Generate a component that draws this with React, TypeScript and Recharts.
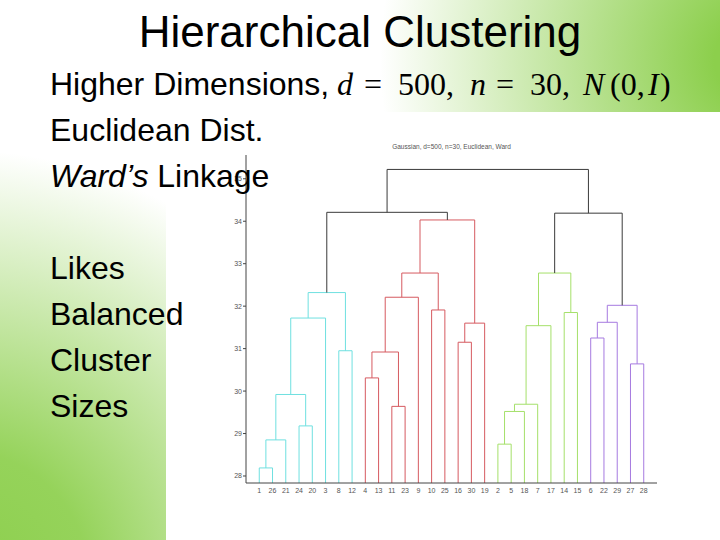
import React from 'react';
import { ComposedChart, Line, XAxis, YAxis } from 'recharts';

// ---- data ----
const leafLabels = ['1', '26', '21', '24', '20', '3', '8', '12', '4', '13', '11', '23', '9', '10', '25', '16', '30', '19', '2', '5', '18', '7', '17', '14', '15', '6', '22', '29', '27', '28'];
// linkage (MATLAB style): node n+k+1 joins linkLeft[k] and linkRight[k] at linkHeight[k]
const linkLeft = [1, 31, 24, 32, 34, 8, 35, 4, 11, 38, 40, 10, 41, 16, 44, 43, 37, 2, 48, 49, 50, 14, 51, 6, 54, 27, 55, 53, 47];
const linkRight = [26, 21, 20, 33, 3, 12, 36, 13, 23, 39, 9, 25, 42, 30, 19, 45, 46, 5, 18, 7, 17, 15, 52, 22, 29, 28, 56, 57, 58];
const linkHeight = [28.19, 28.85, 29.18, 29.92, 31.72, 30.95, 32.32, 30.31, 29.64, 30.92, 32.21, 31.91, 32.78, 31.15, 31.6, 34.03, 34.21, 28.75, 29.52, 29.69, 31.54, 31.85, 32.78, 31.25, 31.62, 30.64, 32.02, 34.19, 35.22];
const yTicks = [28, 29, 30, 31, 32, 33, 34, 35];
const colorThreshold = 34.1;
const chartTitle = 'Gaussian, d=500, n=30, Euclidean, Ward';
const slideTitle = 'Hierarchical Clustering';
const bulletLines = ['Likes', 'Balanced', 'Cluster', 'Sizes'];

// ---- styles ----
const Y_MIN = 27.835;
const Y_MAX = 35.56;
const clusterColors = ['#6fe0e0', '#d65a60', '#a5e06a', '#a67ae0'];
const aboveColor = '#3a3a3a';
const GREEN = '#8ccf4c';

function buildSegments() {
  const n = leafLabels.length;
  const pos: Record<number, number> = {};
  const height: Record<number, number> = {};
  const parent: Record<number, number> = {};
  leafLabels.forEach((lab, i) => {
    pos[Number(lab)] = i + 1;
    height[Number(lab)] = Y_MIN;
  });
  linkLeft.forEach((a, k) => {
    const id = n + 1 + k;
    const b = linkRight[k];
    pos[id] = (pos[a] + pos[b]) / 2;
    height[id] = linkHeight[k];
    parent[a] = id;
    parent[b] = id;
  });
  const rootOf = (id: number) => {
    let r = id;
    while (parent[r] !== undefined && height[parent[r]] < colorThreshold) r = parent[r];
    return r;
  };
  const roots: number[] = [];
  linkLeft.forEach((_, k) => {
    const id = n + 1 + k;
    if (linkHeight[k] < colorThreshold) {
      const r = rootOf(id);
      if (!roots.includes(r)) roots.push(r);
    }
  });
  roots.sort((p, q) => pos[p] - pos[q]);
  return linkLeft.map((a, k) => {
    const id = n + 1 + k;
    const b = linkRight[k];
    const h = linkHeight[k];
    const color = h < colorThreshold ? clusterColors[roots.indexOf(rootOf(id)) % clusterColors.length] : aboveColor;
    return {
      key: id,
      color,
      points: [
        { x: pos[a], y: height[a] },
        { x: pos[a], y: h },
        { x: pos[b], y: h },
        { x: pos[b], y: height[b] },
      ],
    };
  });
}

const segments = buildSegments();
const xTicks = leafLabels.map((_, i) => i + 1);

export default function App() {
  const sans = '"Liberation Sans", Arial, sans-serif';
  const serif = '"Liberation Serif", "Times New Roman", serif';
  return (
    <div style={{ position: 'absolute', left: 0, top: 0, width: 720, height: 540, overflow: 'hidden', background: '#fff' }}>
      <svg width={720} height={540} style={{ position: 'absolute', left: 0, top: 0 }}>
        <defs>
          <radialGradient id="gTR" cx={760} cy={60} r={380} gradientUnits="userSpaceOnUse">
            <stop offset="0" stopColor={GREEN} stopOpacity={1} />
            <stop offset="0.12" stopColor={GREEN} stopOpacity={1} />
            <stop offset="1" stopColor={GREEN} stopOpacity={0} />
          </radialGradient>
          <radialGradient id="gBL" cx={-40} cy={580} r={430} gradientUnits="userSpaceOnUse">
            <stop offset="0" stopColor={GREEN} stopOpacity={1} />
            <stop offset="0.3" stopColor={GREEN} stopOpacity={0.92} />
            <stop offset="1" stopColor={GREEN} stopOpacity={0} />
          </radialGradient>
        </defs>
        <rect x={0} y={0} width={720} height={540} fill="#ffffff" />
        <rect x={0} y={0} width={720} height={540} fill="url(#gTR)" />
        <rect x={0} y={0} width={720} height={540} fill="url(#gBL)" />
        <rect x={166} y={112} width={554} height={428} fill="#ffffff" />
      </svg>

      <div style={{ position: 'absolute', left: 166, top: 112 }}>
        <ComposedChart width={554} height={428} margin={{ top: 43, right: 63, bottom: 37, left: 50 }}>
          <XAxis
            type="number"
            dataKey="x"
            domain={[0, 31]}
            ticks={xTicks}
            interval={0}
            allowDataOverflow
            tickFormatter={(v: number) => leafLabels[v - 1] ?? ''}
            tickLine={false}
            tickSize={4}
            tickMargin={1}
            height={20}
            stroke="#444"
            tick={{ fontSize: 7, fill: '#555', fontFamily: sans }}
          />
          <YAxis
            type="number"
            dataKey="y"
            domain={[Y_MIN, Y_MAX]}
            ticks={yTicks}
            allowDataOverflow
            width={30}
            tickSize={3}
            tickMargin={1}
            stroke="#444"
            tick={{ fontSize: 7, fill: '#555', fontFamily: sans }}
          />
          {segments.map((s) => (
            <Line
              key={s.key}
              data={s.points}
              dataKey="y"
              type="linear"
              stroke={s.color}
              strokeWidth={1}
              dot={false}
              activeDot={false}
              isAnimationActive={false}
            />
          ))}
        </ComposedChart>
      </div>

      <svg width={720} height={540} style={{ position: 'absolute', left: 0, top: 0, pointerEvents: 'none' }}>
        <text x={360} y={47} textAnchor="middle" fontSize={44} fontFamily={sans} fill="#000">{slideTitle}</text>
        <text x={50} y={95} fontSize={32} fontFamily={sans} fill="#000">Higher Dimensions,</text>
        <text y={95} fontSize={32} fontFamily={serif} fill="#000">
          <tspan x={337} fontStyle="italic">d</tspan>
          <tspan x={364}>=</tspan>
          <tspan x={398}>500,</tspan>
          <tspan x={470} fontStyle="italic">n</tspan>
          <tspan x={496}>=</tspan>
          <tspan x={530}>30,</tspan>
          <tspan x={583} fontStyle="italic">N</tspan>
          <tspan x={610}>(0,</tspan>
          <tspan x={648} fontStyle="italic">I</tspan>
          <tspan x={660}>)</tspan>
        </text>
        <text x={50} y={141} fontSize={32} fontFamily={sans} fill="#000">Euclidean Dist.</text>
        <text x={50} y={187} fontSize={32} fontFamily={sans} fill="#000">
          <tspan fontStyle="italic">Ward’s</tspan>
          <tspan> Linkage</tspan>
        </text>
        {bulletLines.map((t, i) => (
          <text key={t} x={50} y={279 + i * 46} fontSize={32} fontFamily={sans} fill="#000">{t}</text>
        ))}
        <text x={451.5} y={149} textAnchor="middle" fontSize={6.5} fontFamily={sans} fill="#555">{chartTitle}</text>
      </svg>
    </div>
  );
}
